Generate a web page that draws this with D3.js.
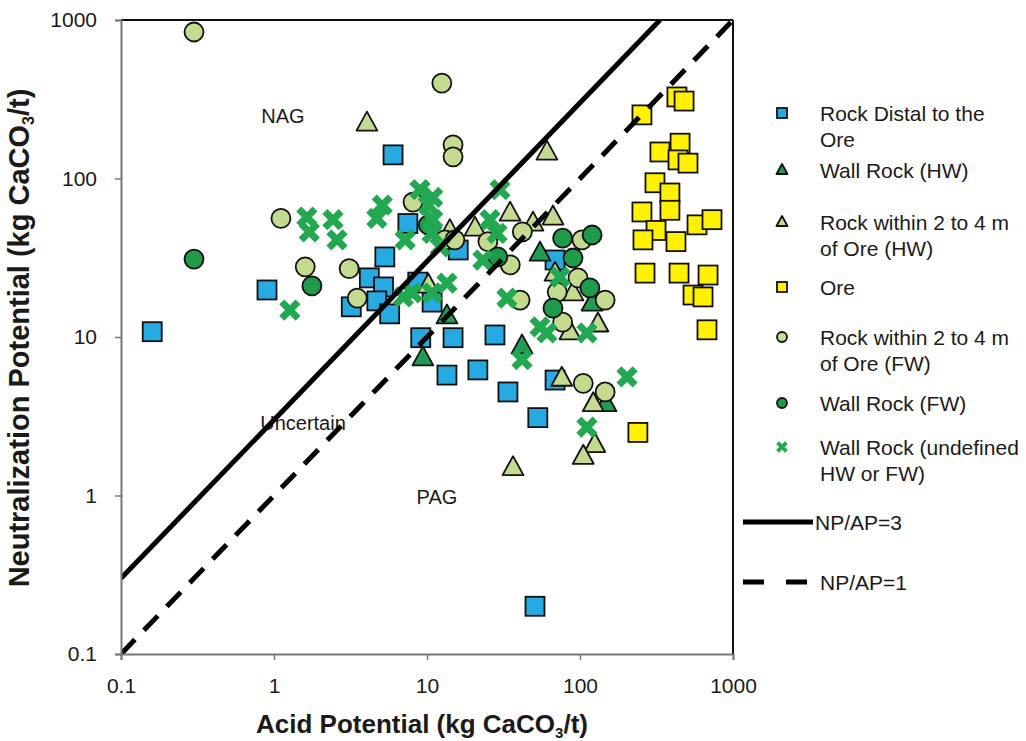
<!DOCTYPE html>
<html>
<head>
<meta charset="utf-8">
<script src="https://cdn.jsdelivr.net/npm/d3@7"></script>
<style>
body { margin: 0; background: #fff; }
text { font-family: Arial, "Liberation Sans", sans-serif; fill: #1a1a1a; }
</style>
</head>
<body>
<div id="chart"></div>
<script>
// DATA  [acid potential, neutralization potential] (kg CaCO3/t)
var distal = [[0.16,10.8],[0.9,19.8],[6.0,141],[5.3,32],[4.2,23.6],[5.2,20.7],[4.7,16.9],[3.2,15.5],
  [5.7,14.0],[7.5,52],[8.7,22.2],[10.8,16.6],[9.1,9.9],[13.5,5.75],[16,35.4],[14.8,9.9],[27.8,10.3],
  [21.5,6.2],[33.8,4.5],[53,3.1],[68.7,5.35],[68.7,30.6],[50.8,0.2]];
var wallHW = [[9.4,7.4],[13.5,13.6],[41.8,8.8],[54.8,33.9],[120,16.4],[148,3.8]];
var nearHW = [[4.05,224],[60.8,147],[14.1,47],[20.6,48.7],[34.9,60.6],[49.3,52.4],[66.6,57.2],[10.2,21.3],
  [68.7,25.3],[90,19],[131,12.1],[86,10.8],[76,5.5],[122,3.8],[125,2.1],[105,1.77],[36.5,1.5]];
var ore = [[430,327],[479,308],[254,252],[333,147],[451,167],[437,131],[508,125],[309,94],[387,81],
  [254,61.5],[387,63],[582,51],[729,55],[314,47],[258,41],[424,40],[266,25.3],[444,25.3],[687,24.6],
  [548,18.4],[637,17.9],[676,11.1],[239,2.5]];
var nearFW = [[0.3,840],[12.5,400],[14.8,163],[14.8,137],[1.11,56],[1.6,27.7],[3.1,27],[3.5,17.6],
  [8.1,71],[13.1,41],[15.2,41],[25,40],[35,28.5],[42,46],[40.6,17.1],[103,41],[97,23.6],[71,19.2],
  [77,12.4],[146,17.1],[105,5.1],[146,4.5]];
var wallFW = [[0.3,31],[1.77,21],[10.2,51],[29,32],[77,42],[120,44],[90,31.5],[116,20.4],[66.6,15.2]];
var wallUndef = [[1.64,57],[1.7,46],[2.43,55],[2.58,41],[1.27,14.8],[5.1,68],[4.7,56],[7.2,41],[9.0,85],
  [10.9,76],[10.2,68],[10.9,55],[10.8,45],[12.2,37],[8.0,19],[10.8,19],[7.0,17.9],[13.5,21.9],[30,85],
  [25.8,55],[28.7,45],[23.2,30.6],[33.3,17.6],[41.8,7.2],[74,23.9],[54.8,11.6],[60.8,10.6],[111,10.6],
  [203,5.6],[111,2.7]];

var ticks = [0.1, 1, 10, 100, 1000];
var ratios = [3, 1];

var series = [
  {name: ["Rock Distal to the", "Ore"], data: distal, shape: "square", fill: "#27A9E1"},
  {name: ["Wall Rock (HW)"], data: wallHW, shape: "triangle", fill: "#239B56"},
  {name: ["Rock within 2 to 4 m", "of Ore (HW)"], data: nearHW, shape: "triangle", fill: "#C4DA8E"},
  {name: ["Ore"], data: ore, shape: "square", fill: "#FFF100"},
  {name: ["Rock within 2 to 4 m", "of Ore (FW)"], data: nearFW, shape: "circle", fill: "#C4DA8E"},
  {name: ["Wall Rock (FW)"], data: wallFW, shape: "circle", fill: "#1E9A4A"},
  {name: ["Wall Rock (undefined", "HW or FW)"], data: wallUndef, shape: "x", fill: "#22A851"}
];

// SETUP
var W = 1026, H = 741;
var L = 121, R = 733, T = 20, B = 654;

var x = d3.scaleLog().domain([0.1, 1000]).range([L, R]);
var y = d3.scaleLog().domain([0.1, 1000]).range([B, T]);

var svg = d3.select("#chart").append("svg")
  .attr("width", W)
  .attr("height", H);

function marker(g, shape, s, fill) {
  if (shape == "square") {
    g.append("rect").attr("x", -s/2).attr("y", -s/2).attr("width", s).attr("height", s)
      .attr("fill", fill).attr("stroke", "#111").attr("stroke-width", 1.8);
  } else if (shape == "circle") {
    g.append("circle").attr("r", s/2)
      .attr("fill", fill).attr("stroke", "#111").attr("stroke-width", 1.8);
  } else if (shape == "triangle") {
    var w = s * 1.1, h = s;
    g.append("path").attr("d", "M0," + (-h*0.6) + "L" + (w/2) + "," + (h*0.4) + "L" + (-w/2) + "," + (h*0.4) + "Z")
      .attr("fill", fill).attr("stroke", "#111").attr("stroke-width", 1.8).attr("stroke-linejoin", "round");
  } else {
    var a = s * 0.37;
    g.append("path").attr("d", "M" + (-a) + "," + (-a) + "L" + a + "," + a + "M" + a + "," + (-a) + "L" + (-a) + "," + a)
      .attr("stroke", fill).attr("stroke-width", s * 0.32).attr("fill", "none");
  }
}

// frame
svg.append("line").attr("x1", L).attr("x2", R).attr("y1", T).attr("y2", T).attr("stroke", "#111").attr("stroke-width", 2);
svg.append("line").attr("x1", R).attr("x2", R).attr("y1", T).attr("y2", B).attr("stroke", "#111").attr("stroke-width", 2);

// region labels
svg.append("text").attr("x", 283).attr("y", 123).attr("text-anchor", "middle").style("font-size", "20px").text("NAG");
svg.append("text").attr("x", 303).attr("y", 430).attr("text-anchor", "middle").style("font-size", "20px").text("Uncertain");
svg.append("text").attr("x", 437).attr("y", 504).attr("text-anchor", "middle").style("font-size", "20px").text("PAG");

// points
series.forEach(function(sr) {
  var size = sr.shape == "x" ? 22 : 19;
  svg.append("g").selectAll("g")
    .data(sr.data)
    .enter()
    .append("g")
    .attr("transform", d => "translate(" + x(d[0]) + "," + y(d[1]) + ")")
    .each(function() { marker(d3.select(this), sr.shape, size, sr.fill); });
});

// NP/AP lines
svg.append("clipPath").attr("id", "pa").append("rect")
  .attr("x", L).attr("y", T).attr("width", R - L).attr("height", B - T);
ratios.forEach(function(r) {
  svg.append("line")
    .attr("clip-path", "url(#pa)")
    .attr("x1", x(0.1)).attr("y1", y(0.1 * r))
    .attr("x2", x(1000 / r)).attr("y2", y(1000))
    .attr("stroke", "#000").attr("stroke-width", 5)
    .attr("stroke-dasharray", r == 1 ? "20,13" : null);
});

// axes
var xAxis = svg.append("g")
  .attr("transform", "translate(0," + B + ")")
  .call(d3.axisBottom(x).tickValues(ticks).tickFormat(d3.format("~g")).tickSizeOuter(0).tickSize(6).tickPadding(18));
var yAxis = svg.append("g")
  .attr("transform", "translate(" + L + ",0)")
  .call(d3.axisLeft(y).tickValues(ticks).tickFormat(d3.format("~g")).tickSizeOuter(0).tickSize(6).tickPadding(18));
[xAxis, yAxis].forEach(function(a) {
  a.select(".domain").attr("stroke", "#777").attr("stroke-width", 2);
  a.selectAll(".tick line").attr("stroke", "#777").attr("stroke-width", 1.5);
  a.selectAll(".tick text").style("font-size", "21px").attr("fill", "#1a1a1a");
});

// axis titles
var xt = svg.append("text").attr("x", 422).attr("y", 733).attr("text-anchor", "middle")
  .style("font-size", "26px").style("font-weight", "bold");
xt.append("tspan").text("Acid Potential (kg CaCO");
xt.append("tspan").attr("dy", 5).style("font-size", "15px").text("3");
xt.append("tspan").attr("dy", -5).text("/t)");

var yt = svg.append("text").attr("transform", "translate(29,338) rotate(-90)").attr("text-anchor", "middle")
  .style("font-size", "29px").style("font-weight", "bold");
yt.append("tspan").text("Neutralization Potential (kg CaCO");
yt.append("tspan").attr("dy", 5).style("font-size", "16px").text("3");
yt.append("tspan").attr("dy", -5).text("/t)");

// legend
var legY = [113, 170, 222, 287, 337, 403, 447];
var leg = svg.append("g");
series.forEach(function(sr, i) {
  var g = leg.append("g").attr("transform", "translate(782," + legY[i] + ")");
  marker(g, sr.shape, sr.shape == "x" ? 12 : 10, sr.fill);
  sr.name.forEach(function(t, j) {
    leg.append("text").attr("x", 820).attr("y", legY[i] + 8 + j * 26)
      .style("font-size", "21px").text(t);
  });
});
leg.append("line").attr("x1", 743).attr("x2", 813).attr("y1", 522).attr("y2", 522)
  .attr("stroke", "#000").attr("stroke-width", 5);
leg.append("text").attr("x", 815).attr("y", 530).style("font-size", "21px").text("NP/AP=3");
leg.append("line").attr("x1", 743).attr("x2", 808).attr("y1", 582).attr("y2", 582)
  .attr("stroke", "#000").attr("stroke-width", 5).attr("stroke-dasharray", "21,22");
leg.append("text").attr("x", 820).attr("y", 590).style("font-size", "21px").text("NP/AP=1");
</script>
</body>
</html>
